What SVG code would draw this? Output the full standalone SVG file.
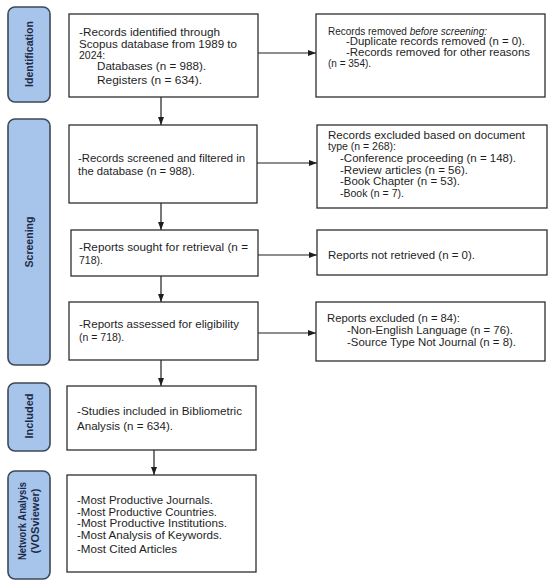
<svg xmlns="http://www.w3.org/2000/svg" width="550" height="583" viewBox="0 0 550 583">
<style>
.side{fill:#a7c4eb;stroke:#3e4858;stroke-width:1.6}
.box{fill:#ffffff;stroke:#2e2e2e;stroke-width:1.3}
.t{font-family:"Liberation Sans",Arial,sans-serif;font-size:10.5px;fill:#1e1e1e}
.r{font-size:10px}
.s{font-family:"Liberation Sans",Arial,sans-serif;font-size:10px;font-weight:bold;fill:#1c2a48}
.c{stroke:#1e1e1e;stroke-width:1.2;fill:none}
</style>
<defs>
<marker id="ah" viewBox="0 0 8 6" refX="8" refY="3" markerWidth="8" markerHeight="6" markerUnits="userSpaceOnUse" orient="auto">
<path d="M0,0 L8,3 L0,6 z" fill="#1e1e1e"/>
</marker>
</defs>
<rect width="550" height="583" fill="#ffffff"/>

<g id="connectors">
<line class="c" x1="161" y1="97" x2="161" y2="125" marker-end="url(#ah)"/>
<line class="c" x1="161" y1="203" x2="161" y2="230" marker-end="url(#ah)"/>
<line class="c" x1="161" y1="276" x2="161" y2="302" marker-end="url(#ah)"/>
<line class="c" x1="161" y1="360" x2="161" y2="386" marker-end="url(#ah)"/>
<line class="c" x1="154" y1="450" x2="154" y2="475" marker-end="url(#ah)"/>
<line class="c" x1="258" y1="53" x2="316" y2="53" marker-end="url(#ah)"/>
<line class="c" x1="257" y1="163" x2="317" y2="163" marker-end="url(#ah)"/>
<line class="c" x1="258" y1="255" x2="317" y2="255" marker-end="url(#ah)"/>
<line class="c" x1="258" y1="333" x2="316" y2="333" marker-end="url(#ah)"/>
</g>

<g id="stage-identification">
<rect class="side" x="8" y="7" width="42" height="95" rx="7"/>
<text class="s" transform="translate(29,54) rotate(-90)" y="3.5" text-anchor="middle" textLength="66" lengthAdjust="spacingAndGlyphs">Identification</text>
</g>
<g id="stage-screening">
<rect class="side" x="8" y="119" width="42" height="246" rx="7"/>
<text class="s" transform="translate(29,242) rotate(-90)" y="3.5" text-anchor="middle" textLength="51" lengthAdjust="spacingAndGlyphs">Screening</text>
</g>
<g id="stage-included">
<rect class="side" x="8" y="383" width="42" height="68" rx="7"/>
<text class="s" transform="translate(29,416) rotate(-90)" y="3.5" text-anchor="middle" textLength="45" lengthAdjust="spacingAndGlyphs">Included</text>
</g>
<g id="stage-network">
<rect class="side" x="8" y="471" width="42" height="108" rx="7"/>
<text class="s" transform="translate(22,521) rotate(-90)" y="3.5" text-anchor="middle" textLength="78" lengthAdjust="spacingAndGlyphs">Network Analysis</text>
<text class="s" transform="translate(35,521) rotate(-90)" y="3.5" text-anchor="middle" textLength="65" lengthAdjust="spacingAndGlyphs">(VOSviewer)</text>
</g>

<g id="records-identified">
<rect class="box" x="69" y="14" width="189" height="83"/>
<text class="t" x="79" y="36" textLength="141" lengthAdjust="spacingAndGlyphs">-Records identified through</text>
<text class="t" x="79" y="47.5" textLength="158" lengthAdjust="spacingAndGlyphs">Scopus database from 1989 to</text>
<text class="t" x="79" y="58.5">2024:</text>
<text class="t" x="97" y="70" textLength="109" lengthAdjust="spacingAndGlyphs">Databases (n = 988).</text>
<text class="t" x="97" y="83.5" textLength="105" lengthAdjust="spacingAndGlyphs">Registers (n = 634).</text>
</g>

<g id="records-removed">
<rect class="box" x="316" y="14" width="229" height="83"/>
<text class="t r" x="328" y="34.5">Records removed <tspan font-style="italic">before screening:</tspan></text>
<text class="t r" x="346" y="45" textLength="179" lengthAdjust="spacingAndGlyphs">-Duplicate records removed  (n = 0).</text>
<text class="t r" x="346" y="55.5" textLength="184" lengthAdjust="spacingAndGlyphs">-Records removed for other reasons</text>
<text class="t r" x="328" y="66.5">(n = 354).</text>
</g>

<g id="records-screened">
<rect class="box" x="69" y="125" width="188" height="78"/>
<text class="t" x="78" y="162" textLength="167" lengthAdjust="spacingAndGlyphs">-Records screened and filtered in</text>
<text class="t" x="78" y="175" textLength="117" lengthAdjust="spacingAndGlyphs">the database (n = 988).</text>
</g>

<g id="records-excluded">
<rect class="box" x="317" y="125" width="230" height="83"/>
<text class="t" x="328" y="138.5" textLength="197" lengthAdjust="spacingAndGlyphs">Records excluded based on document</text>
<text class="t" x="328" y="150">type (n = 268):</text>
<text class="t" x="340" y="162" textLength="176" lengthAdjust="spacingAndGlyphs">-Conference proceeding (n = 148).</text>
<text class="t" x="340" y="173.5" textLength="128" lengthAdjust="spacingAndGlyphs">-Review articles (n = 56).</text>
<text class="t" x="340" y="185" textLength="120" lengthAdjust="spacingAndGlyphs">-Book Chapter (n = 53).</text>
<text class="t" x="340" y="196.5">-Book (n = 7).</text>
</g>

<g id="reports-sought">
<rect class="box" x="71" y="230" width="187" height="46"/>
<text class="t" x="79" y="251" textLength="169" lengthAdjust="spacingAndGlyphs">-Reports sought for retrieval (n =</text>
<text class="t" x="79" y="263.5">718).</text>
</g>

<g id="reports-not-retrieved">
<rect class="box" x="317" y="230" width="230" height="45"/>
<text class="t" x="328" y="258.5" textLength="147" lengthAdjust="spacingAndGlyphs">Reports not retrieved (n = 0).</text>
</g>

<g id="reports-assessed">
<rect class="box" x="69" y="302" width="189" height="58"/>
<text class="t" x="79" y="327.5" textLength="160" lengthAdjust="spacingAndGlyphs">-Reports assessed for eligibility</text>
<text class="t" x="79" y="341">(n = 718).</text>
</g>

<g id="reports-excluded">
<rect class="box" x="316" y="302" width="229" height="59"/>
<text class="t" x="327" y="322" textLength="133" lengthAdjust="spacingAndGlyphs">Reports excluded (n = 84):</text>
<text class="t" x="347" y="333.5" textLength="166" lengthAdjust="spacingAndGlyphs">-Non-English Language (n = 76).</text>
<text class="t" x="347" y="346" textLength="169" lengthAdjust="spacingAndGlyphs">-Source Type Not Journal (n = 8).</text>
</g>

<g id="studies-included">
<rect class="box" x="67" y="386" width="189" height="64"/>
<text class="t" x="77" y="415" textLength="165" lengthAdjust="spacingAndGlyphs">-Studies included in Bibliometric</text>
<text class="t" x="77" y="429.5" textLength="96" lengthAdjust="spacingAndGlyphs">Analysis (n = 634).</text>
</g>

<g id="network-analysis">
<rect class="box" x="67" y="475" width="189" height="97"/>
<text class="t" x="77" y="504" textLength="136" lengthAdjust="spacingAndGlyphs">-Most Productive Journals.</text>
<text class="t" x="77" y="515.5" textLength="140" lengthAdjust="spacingAndGlyphs">-Most Productive Countries.</text>
<text class="t" x="77" y="527" textLength="150" lengthAdjust="spacingAndGlyphs">-Most Productive Institutions.</text>
<text class="t" x="77" y="539" textLength="145" lengthAdjust="spacingAndGlyphs">-Most Analysis of Keywords.</text>
<text class="t" x="77" y="552.5" textLength="100" lengthAdjust="spacingAndGlyphs">-Most Cited Articles</text>
</g>
</svg>
